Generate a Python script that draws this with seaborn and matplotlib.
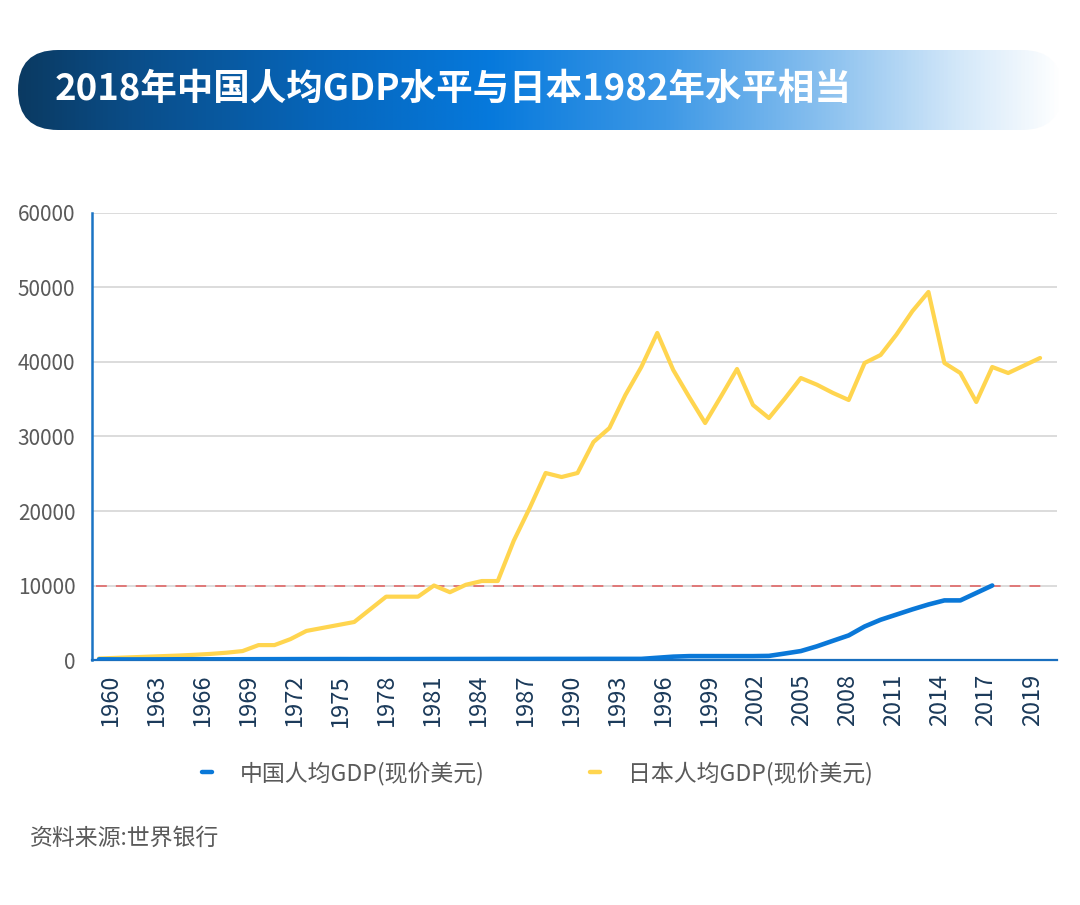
import numpy as np
import pandas as pd
import matplotlib
matplotlib.use("Agg")
import matplotlib.pyplot as plt
from matplotlib.patches import FancyBboxPatch
from matplotlib.colors import LinearSegmentedColormap
import seaborn as sns

# ---------------- data ----------------
title = "2018年中国人均GDP水平与日本1982年水平相当"
source = "资料来源:世界银行"
label_cn = "中国人均GDP(现价美元)"
label_jp = "日本人均GDP(现价美元)"

years_jp = list(range(1960, 2020))
japan = [200, 280, 360, 440, 520, 600, 700, 820, 980, 1200,
         2000, 2000, 2800, 3900, 4300, 4700, 5100, 6800, 8500, 8500,
         8500, 10000, 9100, 10100, 10600, 10600, 16000, 20400, 25100, 24560,
         25100, 29260, 31140, 35570, 39330, 43900, 38930, 35300, 31810, 35400,
         39060, 34230, 32480, 35100, 37850, 36960, 35860, 34900, 39870, 40940,
         43700, 46840, 49400, 39870, 38520, 34630, 39330, 38520, 39530, 40540]

years_cn = list(range(1960, 2017))
china = [90, 80, 75, 80, 85, 95, 100, 95, 90, 100,
         105, 110, 115, 120, 120, 125, 120, 125, 120, 125,
         125, 130, 130, 135, 135, 140, 140, 140, 145, 145,
         145, 150, 150, 150, 150, 300, 450, 520, 520, 520,
         520, 520, 550, 870, 1200, 1830, 2570, 3300, 4500, 5400,
         6100, 6800, 7450, 8000, 8000, 9000, 10000]

reference_level = 10000
y_ticks = [0, 10000, 20000, 30000, 40000, 50000, 60000]
x_tick_labels = ["1960", "1963", "1966", "1969", "1972", "1975", "1978", "1981",
                 "1984", "1987", "1990", "1993", "1996", "1999", "2002", "2005",
                 "2008", "2011", "2014", "2017", "2019"]

# ---------------- style ----------------
sns.set_style("white")
plt.rcParams["font.family"] = ["Noto Sans CJK SC", "DejaVu Sans"]

W, H = 1080, 905
fig = plt.figure(figsize=(W / 100, H / 100), dpi=100)
fig.patch.set_facecolor("white")

def fx(px):
    return px / W

def fy(py):
    return 1 - py / H

# ---------------- banner ----------------
bx0, bx1, by0, by1 = 18, 1062, 50, 130
ax_b = fig.add_axes([fx(bx0), fy(by1), fx(bx1 - bx0), (by1 - by0) / H])
ax_b.set_xlim(0, bx1 - bx0)
ax_b.set_ylim(0, by1 - by0)
ax_b.axis("off")
cmap = LinearSegmentedColormap.from_list(
    "banner",
    [(0.0, "#0b3a62"), (0.12, "#0a4f8c"), (0.3, "#0667bd"), (0.45, "#0679dc"),
     (0.62, "#3d98e6"), (0.78, "#8dc2ef"), (0.9, "#d2e7f9"), (1.0, "#ffffff")])
grad = np.linspace(0, 1, 512).reshape(1, -1)
im = ax_b.imshow(grad, cmap=cmap, aspect="auto",
                 extent=[0, bx1 - bx0, 0, by1 - by0], zorder=1)
clip = FancyBboxPatch((0, 0), bx1 - bx0, by1 - by0,
                      boxstyle="round,pad=0,rounding_size=40",
                      transform=ax_b.transData, facecolor="none", edgecolor="none")
ax_b.add_patch(clip)
im.set_clip_path(clip)
ax_b.text(55 - bx0, (by1 - by0) / 2 + 1, title, color="white", fontsize=26.3,
          fontweight="bold", va="center", ha="left", zorder=3)

# ---------------- main chart ----------------
ax = fig.add_axes([fx(92), fy(660), fx(1057 - 92), (660 - 213) / H])

df_cn = pd.DataFrame({"year": years_cn, "gdp": china})
df_jp = pd.DataFrame({"year": years_jp, "gdp": japan})

blue = "#0a78d8"
yellow = "#ffd54f"

ax.axhline(reference_level, xmin=0.004, xmax=0.985, color="#e07070",
           lw=1.3, ls=(0, (6, 5)), zorder=2)
sns.lineplot(data=df_jp, x="year", y="gdp", ax=ax, color=yellow, lw=3.0,
             label=label_jp, zorder=4)
sns.lineplot(data=df_cn, x="year", y="gdp", ax=ax, color=blue, lw=3.3,
             label=label_cn, zorder=5)

ax.set_xlim(1959.56, 2020.06)
ax.set_ylim(0, 60000)
ax.set_yticks(y_ticks)
ax.set_yticklabels([str(v) for v in y_ticks])
tick_pos = np.linspace(1960.69, 2018.5, len(x_tick_labels))
ax.set_xticks(tick_pos)
ax.set_xticklabels(x_tick_labels, rotation=90)
ax.tick_params(axis="y", length=0, pad=12, labelsize=15, labelcolor="#5a5a5a")
ax.tick_params(axis="x", length=0, pad=10, labelsize=17, labelcolor="#1b3a5a")
ax.set_xlabel("")
ax.set_ylabel("")
ax.grid(axis="y", color="#d6d6d6", lw=1.2)
ax.set_axisbelow(True)
for s in ["top", "right"]:
    ax.spines[s].set_visible(False)
ax.spines["left"].set_color("#1a74c4")
ax.spines["left"].set_linewidth(1.8)
ax.spines["bottom"].set_color("#1a6fbf")
ax.spines["bottom"].set_linewidth(1.6)

# legend
handles, labels = ax.get_legend_handles_labels()
order = [labels.index(label_cn), labels.index(label_jp)]
ax.get_legend().remove()
leg = fig.legend([handles[i] for i in order], [labels[i] for i in order],
                 loc="center", bbox_to_anchor=(fx(537), fy(773)), ncol=2,
                 frameon=False, fontsize=16.5, handlelength=0.45,
                 handletextpad=1.2, columnspacing=4.6)
for t in leg.get_texts():
    t.set_color("#5a5a5a")
for h in leg.get_lines():
    h.set_linewidth(3.2)

fig.text(fx(30), fy(838), source, fontsize=16.5, color="#5a5a5a",
         ha="left", va="center")

fig.savefig("out.png", dpi=100, facecolor="white")
